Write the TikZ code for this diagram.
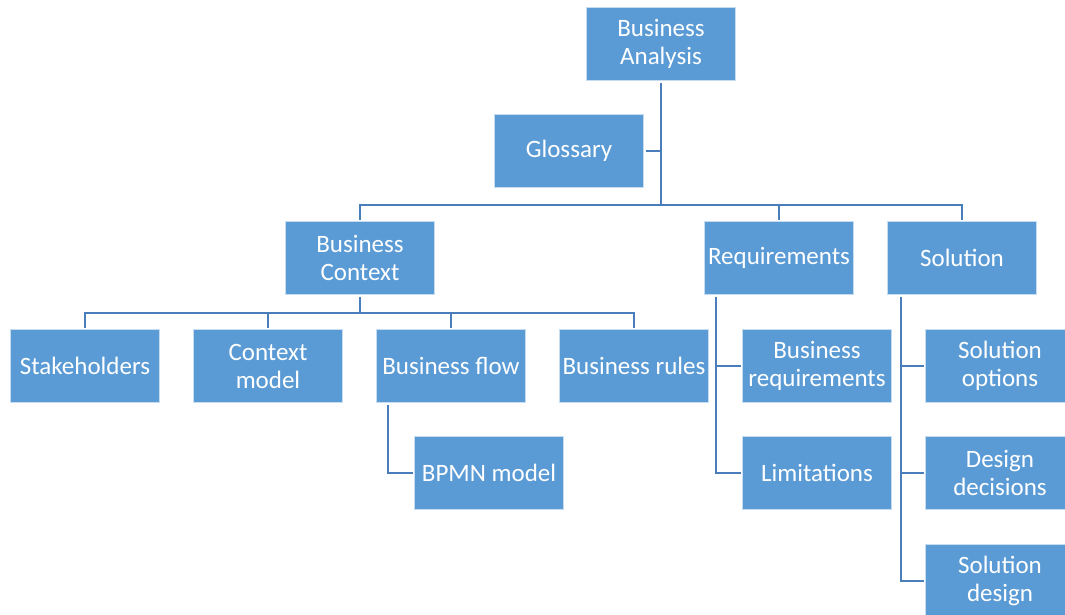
\documentclass[tikz,border=0pt]{standalone}
\usepackage{fontspec}
\setmainfont{Carlito}
\usetikzlibrary{positioning,calc}

\definecolor{boxblue}{RGB}{91,155,213}
\definecolor{lineblue}{RGB}{74,126,187}

\tikzset{
  topic/.style={rectangle, fill=boxblue, draw=white!65!boxblue, line width=0.8pt,
    minimum width=149pt, minimum height=73pt, inner sep=1pt, outer sep=2pt,
    align=center, text=white, font=\fontsize{25}{28}\selectfont},
  link/.style={draw=lineblue, line width=2pt}
}

\begin{document}
\begin{tikzpicture}[x=1pt, y=-1pt]

\useasboundingbox (0,0) rectangle (1065,614);
\clip (0,0) rectangle (1065,614);

% top levels
\node [topic] (ba) at (661,44) {Business\\Analysis};
\node [topic] (gloss) at (569,151) {Glossary};

\node [topic] (bctx) at (360,258) {Business\\Context};
\node [topic] (req) at (779,258) {Requirements};
\node [topic] (sol) at (962,258) {Solution};

% business context children
\node [topic] (stake) at (85,366) {Stakeholders};
\node [topic] (cmodel) at (268,366) {Context\\model};
\node [topic] (bflow) at (451,366) {Business flow};
\node [topic] (brules) at (634,366) {Business rules};
\node [topic] (bpmn) at (489,473) {BPMN model};

% requirements children
\node [topic] (breq) at (817,366) {Business\\requirements};
\node [topic] (limit) at (817,473) {Limitations};

% solution children
\node [topic] (solopt) at (1000,366) {Solution\\options};
\node [topic] (desdec) at (1000,473) {Design\\decisions};
\node [topic] (soldes) at (1000,581) {Solution\\design};

\coordinate (topbus) at (661,205);
\coordinate (ctxbus) at (360,313);
\coordinate (flowtap) at ([xshift=13pt]bflow.south west);
\coordinate (reqtap) at ([xshift=13pt]req.south west);
\coordinate (soltap) at ([xshift=15pt]sol.south west);

\begin{scope}[link]
\draw (ba.south) -- (topbus);
\draw (gloss.east) -- (gloss.east -| ba.south);
\draw (bctx.north) |- (topbus) -| (sol.north);
\draw (req.north) -- (req.north |- topbus);

\draw (bctx.south) -- (ctxbus);
\draw (stake.north) |- (ctxbus) -| (brules.north);
\draw (cmodel.north) -- (cmodel.north |- ctxbus);
\draw (bflow.north) -- (bflow.north |- ctxbus);
\draw (flowtap) |- (bpmn.west);

\draw (reqtap) |- (limit.west);
\draw (breq.west) -- (breq.west -| reqtap);

\draw (soltap) |- (soldes.west);
\draw (solopt.west) -- (solopt.west -| soltap);
\draw (desdec.west) -- (desdec.west -| soltap);
\end{scope}

\end{tikzpicture}
\end{document}
